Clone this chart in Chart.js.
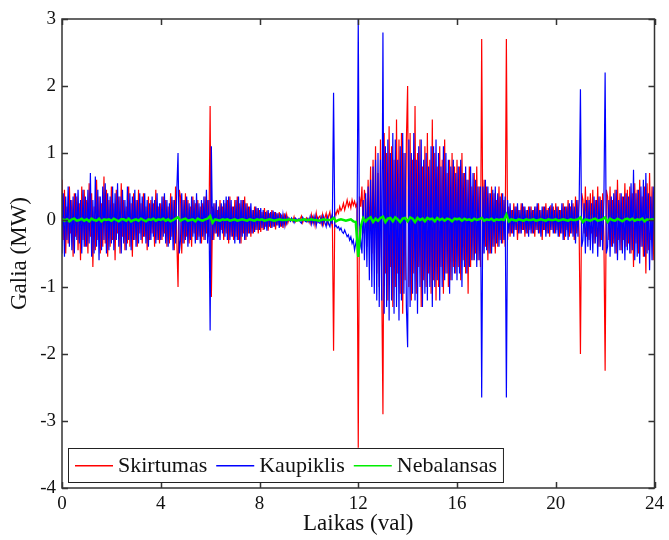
<!DOCTYPE html>
<html>
<head>
<meta charset="utf-8">
<script src="https://cdn.jsdelivr.net/npm/chart.js"></script>
<style>
  html, body { margin: 0; padding: 0; background: #fff; }
  canvas { display: block; }
</style>
</head>
<body>
<canvas id="chart" width="669" height="540"></canvas>
<script>
// Skirtumas / Kaupiklis: samples every 0.05 h, one row per hour
const skirtumas = [
  0.6, -0.3, 0.45, -0.5, 0.2, -0.35, 0.5, -0.2, 0.3, -0.55, 0.4, -0.25, 0.35, -0.45, 0.25, -0.6, 0.5, -0.3, 0.45, -0.4,
  0.3, -0.5, 0.55, -0.25, 0.4, -0.7, 0.2, -0.45, 0.6, -0.3, 0.35, -0.5, 0.25, -0.4, 0.65, -0.35, 0.45, -0.55, 0.3, -0.4,
  0.5, -0.3, 0.25, -0.6, 0.45, -0.2, 0.35, -0.5, 0.55, -0.25, 0.3, -0.45, 0.2, -0.35, 0.5, -0.4, 0.25, -0.55, 0.4, -0.3,
  0.3, -0.4, 0.45, -0.2, 0.25, -0.35, 0.4, -0.25, 0.2, -0.45, 0.35, -0.3, 0.3, -0.2, 0.25, -0.4, 0.45, -0.3, 0.2, -0.35,
  0.25, -0.3, 0.35, -0.2, 0.3, -0.4, 0.2, -0.35, 0.4, -0.25, 0.3, -0.45, 0.5, -0.3, -1.0, 0.45, 0.35, -0.5, 0.3, -0.35,
  0.4, -0.25, 0.3, -0.35, 0.2, -0.4, 0.35, -0.2, 0.25, -0.3, 0.3, -0.25, 0.2, -0.35, 0.25, -0.3, 0.35, -0.2, 0.3, -0.25,
  1.7, -1.15, 0.2, -0.3, 0.25, -0.2, 0.15, -0.25, 0.3, -0.15, 0.2, -0.3, 0.25, -0.2, 0.3, -0.35, 0.35, -0.25, 0.2, -0.3,
  0.3, -0.25, 0.35, -0.3, 0.25, -0.35, 0.3, -0.2, 0.35, -0.3, 0.25, -0.2, 0.2, -0.25, 0.15, -0.2, 0.2, -0.15, 0.18, -0.2,
  0.15, -0.18, 0.12, -0.15, 0.18, -0.1, 0.14, -0.16, 0.1, -0.12, 0.15, -0.1, 0.12, -0.14, 0.1, -0.08, 0.12, -0.1, 0.08, -0.12,
  0.1, -0.06, 0.08, -0.04, 0.03, 0.0, 0.02, -0.02, 0.05, -0.03, 0.0, 0.01, -0.01, 0.02, 0.06, -0.04, 0.02, 0.0, 0.03, -0.02,
  0.02, -0.05, 0.08, -0.03, 0.05, -0.08, 0.1, -0.02, 0.04, 0.06, -0.05, 0.08, -0.06, 0.03, 0.1, -0.04, 0.06, 0.12, -0.05, 0.08,
  -1.95, 0.12, 0.08, 0.15, 0.1, 0.2, 0.14, 0.18, 0.25, 0.15, 0.22, 0.3, 0.2, 0.26, 0.18, 0.3, 0.22, 0.28, 0.2, 0.25,
  -3.4, 0.35, 0.2, 0.5, -0.2, 0.45, 0.3, -0.4, 0.6, -0.3, 0.8, -0.5, 0.9, -0.6, 1.1, -0.8, 0.7, -1.0, 1.2, -0.9,
  -2.9, 1.3, -0.8, 1.0, -1.2, 1.4, -0.7, 1.1, -1.3, 0.9, -1.0, 1.5, -0.8, 1.2, -1.1, 1.3, -1.4, 1.0, -0.9, 1.2,
  2.0, -1.0, 1.3, -1.2, 0.9, -0.8, 1.7, -1.1, 1.0, -0.7, 1.2, -1.3, 0.8, -0.9, 1.1, -1.0, 1.3, -0.8, 0.9, -1.1,
  1.5, -0.9, 1.0, -1.2, 0.8, -1.0, 1.1, -0.7, 0.9, -1.1, 1.2, -0.8, 0.7, -1.0, 0.9, -0.9, 1.0, -0.7, 0.8, -0.8,
  0.9, -0.7, 0.8, -0.9, 1.0, -0.6, 0.7, -0.8, 0.6, -1.1, 0.8, -0.7, 0.5, -0.6, 0.7, -0.5, 0.8, -0.6, 0.5, -0.7,
  2.7, -0.5, 0.6, -0.4, 0.5, -0.6, 0.4, -0.5, 0.5, -0.4, 0.4, -0.5, 0.3, -0.4, 0.5, -0.3, 0.4, -0.35, 0.3, -0.4,
  2.7, -0.3, 0.2, -0.25, 0.15, -0.2, 0.25, -0.15, 0.2, -0.3, 0.15, -0.2, 0.25, -0.15, 0.2, -0.25, 0.15, -0.2, 0.2, -0.15,
  0.2, -0.2, 0.15, -0.25, 0.2, -0.15, 0.25, -0.2, 0.15, -0.3, 0.2, -0.15, 0.25, -0.2, 0.18, -0.25, 0.22, -0.15, 0.2, -0.2,
  0.25, -0.15, 0.2, -0.25, 0.15, -0.2, 0.25, -0.3, 0.2, -0.15, 0.3, -0.25, 0.2, -0.2, 0.25, -0.3, 0.35, -0.2, 0.3, -0.25,
  -2.0, 0.4, 0.3, -0.2, 0.5, -0.25, 0.35, -0.3, 0.4, -0.2, 0.45, -0.35, 0.3, -0.25, 0.5, -0.4, 0.35, -0.3, 0.4, -0.25,
  -2.25, 0.45, 0.35, -0.3, 0.5, -0.4, 0.3, -0.35, 0.45, -0.5, 0.6, -0.3, 0.4, -0.45, 0.35, -0.3, 0.55, -0.4, 0.45, -0.35,
  0.5, -0.5, 0.4, -0.7, 0.55, -0.35, 0.45, -0.5, 0.6, -0.4, 0.35, -0.55, 0.5, -0.8, 0.55, -0.45, 0.7, -0.3, 0.5, -0.6,
  0.4
];

const kaupiklis = [
  -0.5, 0.4, -0.55, 0.35, -0.3, 0.5, -0.4, 0.3, -0.45, 0.35, -0.5, 0.4, -0.3, 0.45, -0.35, 0.3, -0.5, 0.45, -0.4, 0.35,
  -0.4, 0.45, -0.35, 0.7, -0.55, 0.3, -0.5, 0.65, -0.4, 0.45, -0.6, 0.35, -0.45, 0.5, -0.3, 0.55, -0.5, 0.4, -0.45, 0.35,
  -0.35, 0.5, -0.45, 0.4, -0.3, 0.55, -0.4, 0.35, -0.5, 0.45, -0.35, 0.3, -0.45, 0.5, -0.3, 0.4, -0.45, 0.35, -0.3, 0.45,
  -0.4, 0.3, -0.35, 0.4, -0.3, 0.35, -0.25, 0.4, -0.35, 0.3, -0.4, 0.25, -0.3, 0.35, -0.25, 0.3, -0.35, 0.4, -0.3, 0.25,
  -0.3, 0.35, -0.25, 0.4, -0.35, 0.3, -0.4, 0.25, -0.3, 0.35, -0.45, 0.3, -0.35, 0.45, 1.0, -0.5, -0.3, 0.4, -0.35, 0.3,
  -0.3, 0.35, -0.4, 0.25, -0.3, 0.35, -0.25, 0.3, -0.35, 0.4, -0.3, 0.25, -0.35, 0.3, -0.25, 0.35, -0.3, 0.45, -0.35, 0.3,
  -1.65, 1.1, -0.3, 0.25, -0.2, 0.3, -0.25, 0.2, -0.3, 0.25, -0.2, 0.3, -0.25, 0.35, -0.3, 0.35, -0.3, 0.3, -0.25, 0.2,
  -0.35, 0.3, -0.3, 0.35, -0.35, 0.3, -0.25, 0.3, -0.3, 0.25, -0.25, 0.2, -0.2, 0.25, -0.2, 0.15, -0.18, 0.2, -0.15, 0.18,
  -0.15, 0.18, -0.12, 0.15, -0.14, 0.12, -0.16, 0.15, -0.1, 0.12, -0.12, 0.14, -0.1, 0.12, -0.08, 0.1, -0.12, 0.1, -0.1, 0.08,
  -0.08, 0.06, -0.05, 0.04, 0.0, -0.02, 0.03, 0.0, -0.04, 0.03, 0.01, 0.0, 0.02, -0.03, -0.05, 0.04, 0.0, -0.02, -0.03, 0.02,
  -0.03, 0.05, -0.06, 0.04, -0.05, 0.06, -0.08, 0.03, -0.04, -0.05, 0.04, -0.07, 0.05, -0.04, -0.1, 0.04, -0.06, -0.1, 0.05, -0.06,
  1.9, -0.1, -0.08, -0.12, -0.1, -0.15, -0.12, -0.18, -0.2, -0.15, -0.2, -0.25, -0.22, -0.3, -0.25, -0.35, -0.3, -0.45, -0.35, -0.25,
  3.0, -0.45, -0.3, -0.5, 0.3, -0.6, 0.4, -0.7, 0.5, -0.9, 0.6, -1.0, 0.8, -1.1, 0.9, -1.2, 1.0, -1.3, 0.9, -1.2,
  2.8, -1.4, 1.1, -1.3, 1.2, -1.5, 1.0, -1.2, 1.3, -1.4, 1.2, -1.3, 0.9, -1.5, 1.1, -1.2, 1.3, -1.1, 1.0, -1.3,
  -1.9, 1.2, -1.3, 1.0, -1.1, 1.3, -1.2, 0.9, -1.4, 1.1, -1.0, 1.2, -1.3, 0.9, -1.1, 1.0, -1.2, 0.8, -1.0, 1.1,
  -1.3, 1.1, -1.0, 1.2, -0.9, 1.0, -1.2, 0.8, -1.0, 1.1, -0.9, 1.0, -0.8, 0.9, -1.1, 0.8, -0.9, 0.9, -0.8, 0.7,
  -0.9, 0.8, -0.8, 0.9, -1.0, 0.7, -0.7, 0.8, -0.8, 0.6, -0.7, 0.8, -0.6, 0.7, -0.6, 0.6, -0.7, 0.5, -0.6, 0.5,
  -2.65, 0.5, -0.5, 0.6, -0.45, 0.5, -0.5, 0.4, -0.5, 0.45, -0.4, 0.5, -0.35, 0.4, -0.4, 0.35, -0.35, 0.4, -0.3, 0.35,
  -2.65, 0.3, -0.2, 0.25, -0.2, 0.15, -0.25, 0.2, -0.15, 0.25, -0.2, 0.15, -0.2, 0.25, -0.15, 0.2, -0.2, 0.15, -0.25, 0.2,
  -0.2, 0.15, -0.2, 0.2, -0.15, 0.25, -0.2, 0.15, -0.25, 0.2, -0.15, 0.2, -0.25, 0.15, -0.2, 0.2, -0.15, 0.25, -0.2, 0.15,
  -0.2, 0.2, -0.25, 0.15, -0.2, 0.25, -0.3, 0.2, -0.25, 0.2, -0.3, 0.25, -0.2, 0.3, -0.25, 0.2, -0.35, 0.3, -0.25, 0.3,
  1.95, -0.4, -0.3, 0.25, -0.5, 0.3, -0.4, 0.3, -0.45, 0.25, -0.5, 0.35, -0.35, 0.3, -0.55, 0.35, -0.4, 0.3, -0.45, 0.3,
  2.2, -0.5, -0.4, 0.3, -0.55, 0.35, -0.4, 0.4, -0.5, 0.45, -0.6, 0.3, -0.45, 0.4, -0.5, 0.35, -0.6, 0.4, -0.45, 0.35,
  -0.5, 0.55, -0.45, 0.75, -0.6, 0.4, -0.55, 0.45, -0.65, 0.5, -0.4, 0.6, -0.55, 0.7, -0.5, 0.4, -0.75, 0.35, -0.6, 0.5,
  -0.4
];

// Nebalansas: samples every 0.1 h
const nebalansas = [
  0.02, -0.01, 0.01, -0.02, 0.01, 0.02, -0.01, 0.0, 0.02, -0.01,
  0.01, -0.02, 0.02, 0.0, -0.01, 0.02, -0.02, 0.01, 0.0, 0.01,
  -0.01, 0.02, 0.0, -0.02, 0.01, 0.01, -0.01, 0.02, -0.02, 0.0,
  0.01, -0.01, 0.02, 0.0, -0.02, 0.01, 0.0, 0.02, -0.01, 0.01,
  0.0, 0.02, -0.01, 0.01, -0.02, 0.0, 0.02, 0.04, -0.01, 0.01,
  0.02, -0.01, 0.0, 0.01, -0.02, 0.02, 0.0, -0.01, 0.01, 0.02,
  0.06, -0.04, 0.01, 0.0, -0.01, 0.01, 0.0, 0.01, -0.01, 0.0,
  0.01, -0.01, 0.0, 0.01, 0.0, -0.01, 0.01, 0.0, -0.01, 0.01,
  0.0, 0.01, -0.01, 0.0, 0.01, 0.0, -0.01, 0.0, 0.01, 0.0,
  0.0, 0.0, 0.01, 0.0, 0.0, -0.01, 0.0, 0.0, 0.01, 0.0,
  0.0, 0.01, 0.0, 0.0, -0.01, 0.0, 0.01, 0.0, 0.0, 0.0,
  0.03, -0.02, 0.0, 0.01, 0.0, -0.01, 0.0, 0.01, -0.02, -0.03,
  -0.55, -0.1, 0.03, -0.02, 0.02, 0.04, -0.03, 0.02, -0.01, 0.03,
  0.05, -0.03, 0.02, 0.03, -0.02, 0.04, 0.01, -0.03, 0.02, 0.03,
  -0.02, 0.04, 0.02, -0.03, 0.03, 0.0, 0.02, -0.02, 0.03, 0.01,
  0.02, -0.02, 0.03, 0.0, 0.02, -0.01, 0.02, 0.01, -0.02, 0.02,
  0.01, 0.02, -0.01, 0.02, 0.0, 0.01, -0.01, 0.02, 0.0, 0.01,
  0.03, -0.01, 0.01, 0.0, 0.02, -0.01, 0.01, 0.0, 0.01, 0.0,
  0.08, -0.02, 0.01, 0.0, -0.01, 0.01, 0.0, -0.01, 0.01, 0.0,
  0.0, 0.01, -0.01, 0.0, 0.01, 0.0, -0.01, 0.01, 0.0, 0.0,
  0.01, -0.01, 0.0, 0.01, 0.0, -0.01, 0.01, 0.0, 0.0, 0.01,
  0.04, -0.03, 0.01, 0.0, -0.01, 0.01, 0.02, -0.01, 0.0, 0.01,
  0.04, -0.03, 0.02, 0.0, -0.01, 0.02, 0.0, -0.02, 0.01, 0.02,
  0.0, 0.02, -0.01, 0.01, 0.0, 0.02, -0.02, 0.01, 0.0, 0.01,
  0.0
];

// sample grids (hours)
const hours = skirtumas.map((_, i) => i / 20);
const hoursNeb = nebalansas.map((_, i) => i / 10);

const seriesNames = ['Skirtumas', 'Kaupiklis', 'Nebalansas'];
const seriesColors = ['#ff0000', '#0000ff', '#00ee00'];
const xTicks = [0, 4, 8, 12, 16, 20, 24];
const yTicks = [-4, -3, -2, -1, 0, 1, 2, 3];

const FONT = '"Liberation Serif", "Times New Roman", serif';
const INK = '#111';

function toPoints(xs, values) {
  return values.map((v, i) => ({ x: xs[i], y: v }));
}

// MATLAB-style box with inward ticks on all four sides
const boxPlugin = {
  id: 'box',
  afterDatasetsDraw(chart) {
    const { ctx, chartArea: a, scales } = chart;
    const tl = 6;
    ctx.save();
    ctx.strokeStyle = '#333';
    ctx.lineWidth = 1.5;
    ctx.beginPath();
    xTicks.forEach(t => {
      const px = Math.round(scales.x.getPixelForValue(t)) + 0.5;
      ctx.moveTo(px, a.bottom); ctx.lineTo(px, a.bottom - tl);
      ctx.moveTo(px, a.top); ctx.lineTo(px, a.top + tl);
    });
    yTicks.forEach(t => {
      const py = Math.round(scales.y.getPixelForValue(t)) + 0.5;
      ctx.moveTo(a.left, py); ctx.lineTo(a.left + tl, py);
      ctx.moveTo(a.right, py); ctx.lineTo(a.right - tl, py);
    });
    ctx.stroke();
    ctx.strokeRect(a.left, a.top, a.right - a.left, a.bottom - a.top);
    ctx.restore();
  }
};

// legend box in the lower left corner of the axes
const legendPlugin = {
  id: 'boxLegend',
  afterDraw(chart) {
    const { ctx, chartArea: a } = chart;
    const left = a.left + 6, top = a.bottom - 40, h = 34;
    const cy = Math.round(top + h / 2);
    ctx.save();
    ctx.font = '22px ' + FONT;
    let x = left + 7;
    const items = seriesNames.map((name, i) => {
      const w = ctx.measureText(name).width;
      const it = { name, color: seriesColors[i], x };
      x += 38 + 5 + w + 9;
      return it;
    });
    const right = x - 9 + 6;
    ctx.fillStyle = '#fff';
    ctx.fillRect(left, top, right - left, h);
    ctx.strokeStyle = '#222';
    ctx.lineWidth = 1;
    ctx.strokeRect(left + 0.5, top + 0.5, right - left, h);
    items.forEach(it => {
      // sample line as a thin filled bar in the series colour
      ctx.fillStyle = it.color;
      ctx.fillRect(it.x, cy, 38, 1.5);
      ctx.fillStyle = INK;
      ctx.textBaseline = 'middle';
      ctx.fillText(it.name, it.x + 43, cy + 1);
    });
    ctx.restore();
  }
};

new Chart(document.getElementById('chart'), {
  type: 'line',
  data: {
    datasets: [
      { label: seriesNames[0], data: toPoints(hours, skirtumas), borderColor: seriesColors[0], borderWidth: 1.2, order: 3 },
      { label: seriesNames[1], data: toPoints(hours, kaupiklis), borderColor: seriesColors[1], borderWidth: 1.2, order: 2 },
      { label: seriesNames[2], data: toPoints(hoursNeb, nebalansas), borderColor: seriesColors[2], borderWidth: 2.5, order: 1 }
    ]
  },
  options: {
    responsive: false,
    animation: false,
    events: [],
    layout: { padding: { top: 19, right: 14, left: 0, bottom: 0 } },
    elements: { point: { radius: 0 }, line: { tension: 0 } },
    plugins: { legend: { display: false }, tooltip: { enabled: false } },
    scales: {
      x: {
        type: 'linear',
        min: 0, max: 24,
        afterFit(s) { s.height = 52; },
        afterBuildTicks(s) { s.ticks = xTicks.map(v => ({ value: v })); },
        grid: { display: false, drawTicks: false },
        border: { display: false },
        ticks: { color: INK, font: { family: FONT, size: 19 }, padding: 5, maxRotation: 0, autoSkip: false },
        title: { display: true, text: 'Laikas (val)', color: INK, font: { family: FONT, size: 23 }, padding: { top: 0, bottom: 2 } }
      },
      y: {
        min: -4, max: 3,
        afterFit(s) { s.width = 62; },
        afterBuildTicks(s) { s.ticks = yTicks.map(v => ({ value: v })); },
        grid: { display: false, drawTicks: false },
        border: { display: false },
        ticks: { color: INK, font: { family: FONT, size: 19 }, padding: 6 },
        title: { display: true, text: 'Galia (MW)', color: INK, font: { family: FONT, size: 23 }, padding: { top: 6, bottom: 0 } }
      }
    }
  },
  plugins: [boxPlugin, legendPlugin]
});
</script>
</body>
</html>
